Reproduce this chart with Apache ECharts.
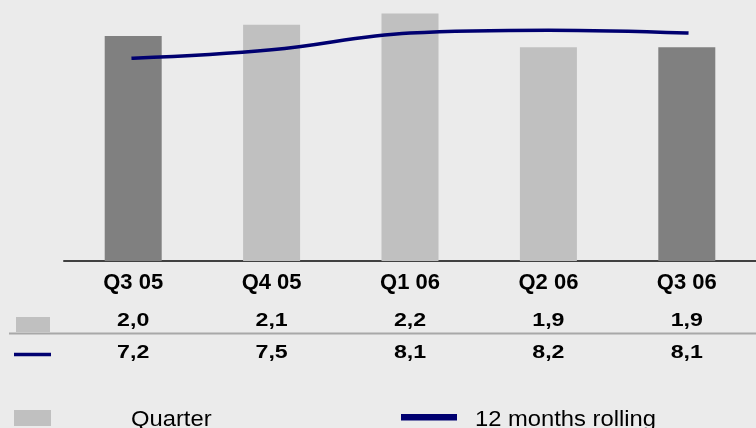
<!DOCTYPE html>
<html>
<head>
<meta charset="utf-8">
<script src="https://cdn.jsdelivr.net/npm/echarts@6/dist/echarts.min.js"></script>
<style>
  html, body { margin: 0; padding: 0; background: #ebebeb; }
  #chart { width: 756px; height: 428px; }
</style>
</head>
<body>
<div id="chart"></div>
<script>
// Quarterly figures and the 12-month rolling total
const categories = ['Q3 05', 'Q4 05', 'Q1 06', 'Q2 06', 'Q3 06'];
const quarterValues = [2.0, 2.1, 2.2, 1.9, 1.9];
const rollingValues = [7.2, 7.5, 8.1, 8.2, 8.1];
const legendNames = ['Quarter', '12 months rolling'];

const FONT = '"Liberation Sans", Arial, sans-serif';
const NAVY = '#000070';
const LIGHT = '#c0c0c0';
const DARK = '#808080';

const fmt = v => v.toFixed(1).replace('.', ',');

const chart = echarts.init(document.getElementById('chart'), null, { renderer: 'canvas' });

chart.setOption({
  backgroundColor: '#ebebeb',
  animation: false,
  grid: { left: 64, right: -3, top: 0, bottom: 167, containLabel: false },
  xAxis: {
    type: 'category',
    data: categories,
    boundaryGap: true,
    axisLine: { show: true, lineStyle: { color: '#404040', width: 2 } },
    axisTick: { show: false },
    axisLabel: {
      color: '#000', fontFamily: FONT, fontWeight: 'bold', fontSize: 22, margin: 11
    }
  },
  yAxis: [
    { type: 'value', min: 0, max: 2.32, show: false },
    { type: 'value', min: 0, max: 9.27, show: false }
  ],
  series: [
    {
      name: legendNames[0],
      type: 'bar',
      data: quarterValues,
      barWidth: 57,
      itemStyle: {
        // same quarter of each year is shown darker
        color: p => categories[p.dataIndex].startsWith('Q3') ? DARK : LIGHT
      }
    },
    {
      name: legendNames[1],
      type: 'line',
      yAxisIndex: 1,
      data: rollingValues,
      smooth: 0.4,
      symbol: 'none',
      lineStyle: { color: NAVY, width: 3.5, cap: 'square' }
    }
  ]
});

// Value table under the axis and the legend, placed by the category scale
const graphics = [];
const rowY = [321, 353];
categories.forEach((c, i) => {
  const x = chart.convertToPixel({ xAxisIndex: 0 }, c);
  [quarterValues[i], rollingValues[i]].forEach((v, r) => {
    graphics.push({
      type: 'text', x: x, y: rowY[r], scaleX: 1.22,
      style: {
        text: fmt(v), fill: '#000', font: 'bold 19px ' + FONT,
        align: 'center', verticalAlign: 'middle'
      }
    });
  });
});

// table row keys and separator
graphics.push(
  { type: 'rect', shape: { x: 16, y: 317, width: 34, height: 15 }, style: { fill: LIGHT } },
  { type: 'line', shape: { x1: 9, y1: 333.5, x2: 756, y2: 333.5 }, style: { stroke: '#a8a8a8', lineWidth: 2 } },
  { type: 'line', shape: { x1: 14, y1: 354.5, x2: 51, y2: 354.5 }, style: { stroke: NAVY, lineWidth: 3.5 } }
);

// legend
graphics.push(
  { type: 'rect', shape: { x: 14, y: 410, width: 37, height: 16 }, style: { fill: LIGHT } },
  {
    type: 'text', x: 131, y: 431, scaleX: 1.08,
    style: { text: legendNames[0], fill: '#000', font: '22px ' + FONT, align: 'left', verticalAlign: 'bottom' }
  },
  { type: 'rect', shape: { x: 401, y: 414, width: 56, height: 6.5 }, style: { fill: NAVY } },
  {
    type: 'text', x: 475, y: 431, scaleX: 1.08,
    style: { text: legendNames[1], fill: '#000', font: '22px ' + FONT, align: 'left', verticalAlign: 'bottom' }
  }
);

chart.setOption({ graphic: graphics });
</script>
</body>
</html>
